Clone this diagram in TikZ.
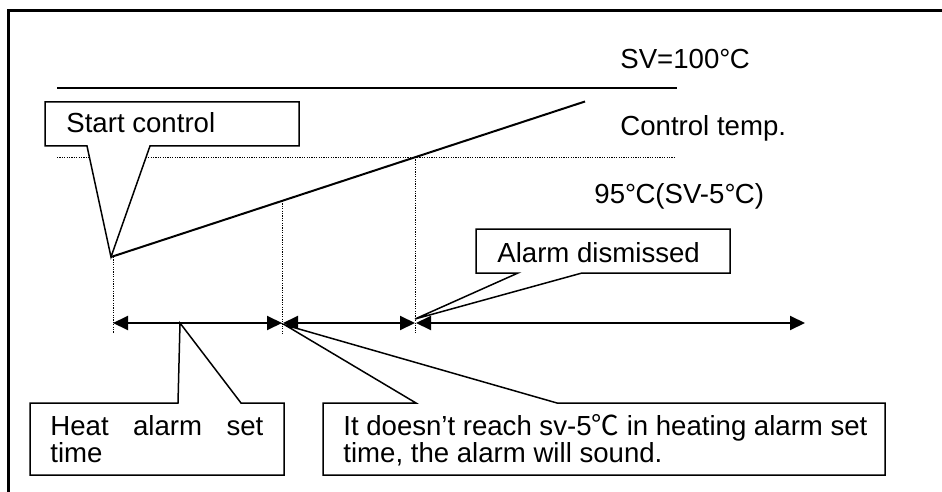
\documentclass[tikz,border=0pt]{standalone}
\usepackage{fontspec}
\setmainfont{Liberation Sans}
\newfontfamily\cjkfont{Noto Sans CJK SC}
\usetikzlibrary{arrows.meta}
\begin{document}
\begin{tikzpicture}[x=0.5pt, y=-0.5pt,
    txt/.style={anchor=base west, inner sep=0pt, font=\fontsize{13.8}{13.5}\selectfont},
    callout/.style={draw=black, line width=0.75pt, fill=white, line join=miter},
    guide/.style={line width=0.5pt, dash pattern=on 0.6pt off 0.6pt},
    span/.style={line width=1pt, {Triangle[length=7.5pt,width=7pt]}-{Triangle[length=7.5pt,width=7pt]}}]
    \useasboundingbox (0,0) rectangle (942,492);
    \draw[line width=1.5pt] (950,11) -- (8,11) -- (8,500);

    % set value and alarm level
    \draw[line width=1pt] (57,88) -- (677,88);
    \draw[guide] (57,157) -- (675,157);
    \node (sv) [txt] at (620,69) {SV=100{°}\kern-0.3pt C};
    \node (ctrl) [txt] at (620,135) {Control temp.};
    \node (low) [txt] at (594,203) {95{°}\kern-0.3pt C(SV-5{°}\kern-0.3pt C)};

    % control temperature
    \coordinate (t0) at (111,257);
    \coordinate (t1) at (282,200.9);
    \coordinate (t2) at (415,157);
    \coordinate (tend) at (585,101.5);
    \draw[line width=1pt] (t0) -- (tend);

    % time axis
    \coordinate (a0) at (113,323);
    \coordinate (a1) at (282,323);
    \coordinate (a2) at (415,323);
    \coordinate (a3) at (805,323);
    \draw[guide] (113,257) -- (113,333);
    \draw[guide] (t1) -- (282,333);
    \draw[guide] (t2) -- (415,333);
    \draw[span] (a0) -- (a1);
    \draw[span] ([xshift=0.5pt]a1) -- (a2);
    \draw[span] ([xshift=0.5pt]a2) -- (a3);

    % callouts
    \coordinate (p0) at (180,323);
    \coordinate (p1) at (285,325);
    \coordinate (p2) at (415,319);
    \draw[callout] (45,102) -- (299,102) -- (299,146) -- (150,146) -- (t0) -- (87,146) -- (45,146) -- cycle;
    \node (start) [txt] at (66,133) {Start control};
    \draw[callout] (476,229) -- (730,229) -- (730,273) -- (582,273) -- (p2) -- (518,273) -- (476,273) -- cycle;
    \node (alarm) [txt] at (497,262) {Alarm dismissed};
    \draw[callout] (30,403) -- (178,403) -- (p0) -- (241,403) -- (284,403) -- (284,475) -- (30,475) -- cycle;
    \node (heat) [txt] at (50,435) {\parbox[t]{106.5pt}{Heat\hfill alarm\hfill set\\time}};
    \draw[callout] (323,403) -- (416,403) -- (p1) -- (557,403) -- (885,403) -- (885,475) -- (323,475) -- cycle;
    \node (sound) [txt] at (343,435) {\parbox[t]{262pt}{It doesn’t reach sv-5{\cjkfont ℃} in heating alarm set\\time, the alarm will sound.}};
\end{tikzpicture}
\end{document}
